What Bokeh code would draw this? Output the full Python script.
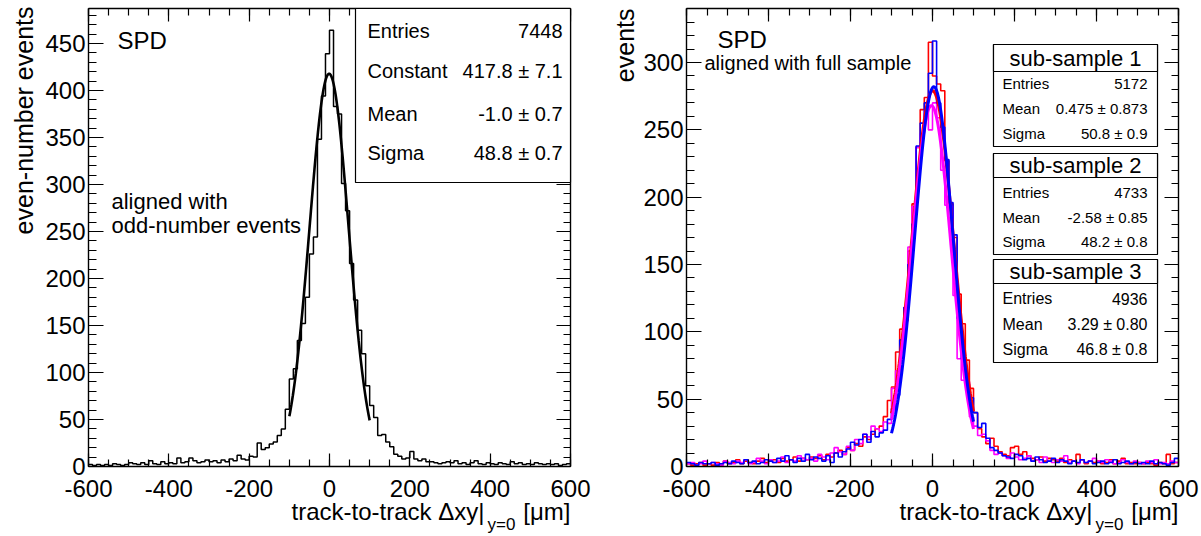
import numpy as np
from bokeh.plotting import figure
from bokeh.layouts import row
from bokeh.models import LinearAxis, FixedTicker, Label, BoxAnnotation, Range1d
from bokeh.embed import file_html
from bokeh.resources import INLINE

FONT = "Liberation Sans"

# 120 bins of 10 um between -600 and 600
bin_edges = np.arange(-600, 601, 10)

# even-number events, aligned with odd-number events
even_counts = [
    2, 1, 2, 1, 2, 1, 3, 2, 1, 2,
    4, 3, 2, 4, 2, 6, 3, 2, 5, 3,
    4, 3, 9, 4, 5, 9, 6, 4, 5, 7,
    5, 6, 4, 7, 5, 8, 6, 12, 8, 7,
    11, 10, 25, 18, 20, 24, 26, 33, 40, 61,
    93, 104, 134, 152, 180, 226, 244, 348, 394, 439,
    464, 383, 375, 301, 272, 216, 177, 145, 120, 86,
    65, 52, 33, 34, 26, 21, 13, 11, 8, 9,
    16, 8, 6, 8, 5, 5, 4, 3, 4, 5,
    4, 6, 3, 4, 2, 4, 6, 3, 2, 4,
    3, 2, 4, 3, 2, 5, 3, 4, 2, 3,
    2, 4, 3, 2, 3, 2, 3, 1, 2, 3,
]

# sub-samples aligned with the full sample
sub1_counts = [
    2, 1, 2, 3, 1, 2, 1, 3, 2, 4,
    2, 3, 5, 2, 4, 3, 2, 4, 6, 3,
    4, 5, 3, 6, 4, 5, 7, 4, 6, 5,
    7, 6, 8, 5, 9, 7, 10, 12, 9, 14,
    12, 17, 15, 22, 20, 24, 28, 30, 37, 49,
    59, 85, 102, 108, 160, 195, 237, 265, 274, 315,
    290, 284, 279, 227, 195, 170, 128, 106, 79, 58,
    40, 28, 22, 17, 21, 15, 11, 9, 8, 14,
    15, 9, 11, 8, 6, 5, 7, 4, 6, 5,
    4, 6, 3, 5, 4, 9, 5, 2, 4, 3,
    4, 2, 3, 5, 2, 4, 6, 2, 3, 2,
    3, 2, 3, 2, 1, 3, 2, 9, 2, 3,
]
sub2_counts = [
    2, 3, 1, 2, 4, 2, 3, 2, 1, 4,
    3, 2, 4, 3, 5, 2, 3, 6, 4, 2,
    5, 3, 4, 7, 3, 5, 4, 8, 6, 5,
    6, 4, 9, 7, 5, 10, 14, 11, 9, 15,
    12, 20, 17, 24, 22, 30, 28, 26, 33, 32,
    58, 71, 86, 118, 163, 193, 237, 247, 264, 250,
    270, 259, 220, 194, 193, 127, 80, 64, 63, 37,
    30, 23, 24, 19, 12, 9, 10, 8, 6, 10,
    7, 5, 6, 8, 4, 5, 3, 7, 4, 3,
    5, 4, 8, 3, 4, 2, 5, 3, 4, 6,
    4, 3, 5, 4, 2, 3, 5, 3, 2, 4,
    3, 2, 4, 3, 5, 2, 3, 2, 4, 3,
]
sub3_counts = [
    3, 2, 1, 3, 2, 2, 3, 1, 2, 3,
    2, 4, 3, 2, 5, 3, 4, 2, 3, 5,
    4, 3, 6, 4, 8, 5, 3, 6, 4, 9,
    5, 7, 6, 4, 8, 3, 10, 7, 11, 13,
    18, 16, 20, 24, 18, 26, 22, 25, 27, 35,
    43, 53, 94, 118, 150, 180, 238, 255, 270, 292,
    316, 270, 252, 228, 196, 172, 110, 80, 61, 51,
    40, 29, 32, 21, 14, 12, 10, 8, 7, 6,
    9, 8, 5, 6, 4, 7, 5, 3, 4, 6,
    3, 5, 4, 2, 4, 3, 5, 3, 4, 2,
    3, 4, 2, 3, 5, 2, 3, 4, 2, 3,
    2, 3, 2, 4, 2, 3, 2, 1, 3, 6,
]

# gaussian fits (constant, mean, sigma) over |dxy| < 100
even_fit = (417.8, -1.0, 48.8)
sub_fits = [(279.0, 0.475, 50.8), (268.0, -2.58, 48.2), (282.0, 3.29, 46.8)]
fit_lo, fit_hi = -100, 100

even_stats = [("Entries", "7448"), ("Constant", "417.8 \u00b1 7.1"),
              ("Mean", "-1.0 \u00b1 0.7"), ("Sigma", "48.8 \u00b1 0.7")]
sub_names = ["sub-sample 1", "sub-sample 2", "sub-sample 3"]
sub_entries = ["5172", "4733", "4936"]
sub_means = ["0.475 \u00b1 0.873", "-2.58 \u00b1 0.85", "3.29 \u00b1 0.80"]
sub_sigmas = ["50.8 \u00b1 0.9", "48.2 \u00b1 0.8", "46.8 \u00b1 0.8"]
sub_colors = ["#ff0000", "#ff00ff", "#0000ff"]

x_major = list(range(-600, 601, 200))
x_minor = list(range(-600, 601, 50))
x_labels = {-600: "-600", -400: "-400", -200: "-200"}

# page geometry in pixels (the bokeh page has no body margin)
PAGE_TOP, PAGE_BOTTOM = 0, 536
FRAME_TOP, FRAME_BOTTOM = 8, 466


def style_axis(ax, ticks, minors, t_in, m_in, labels=True, standoff=8):
    ax.ticker = FixedTicker(ticks=ticks, minor_ticks=minors)
    ax.axis_line_color = "black"
    ax.axis_line_width = 1.4
    ax.major_tick_line_color = "black"
    ax.minor_tick_line_color = "black"
    ax.major_tick_line_width = 1.2
    ax.minor_tick_line_width = 1.2
    ax.major_tick_in = t_in
    ax.major_tick_out = 0
    ax.minor_tick_in = m_in
    ax.minor_tick_out = 0
    if labels:
        ax.major_label_text_font = FONT
        ax.major_label_text_font_size = "24px"
        ax.major_label_text_color = "black"
        ax.major_label_standoff = standoff
    else:
        ax.major_label_text_color = None


class Panel:
    """one ROOT-like pad; the bokeh frame covers the whole canvas and the
    axes are pinned at the histogram borders so margin texts are not clipped"""

    def __init__(self, page_left, fig_w, frame_left, frame_w, ymax, y_major, y_minor):
        self.frame_left, self.frame_w, self.ymax = frame_left, frame_w, ymax
        p = figure(frame_width=fig_w, frame_height=PAGE_BOTTOM - PAGE_TOP,
                   x_range=Range1d(self.px(page_left), self.px(page_left + fig_w)),
                   y_range=Range1d(self.py(PAGE_BOTTOM), self.py(PAGE_TOP)),
                   min_border=0, output_backend="svg", toolbar_location=None)
        p.grid.visible = False
        p.outline_line_color = None
        p.background_fill_color = "white"
        p.border_fill_color = "white"

        xb = p.xaxis[0]
        xb.fixed_location = 0
        xb.bounds = (-600, 600)
        style_axis(xb, x_major, x_minor, 13, 7, standoff=13)
        xb.major_label_overrides = x_labels
        yl = p.yaxis[0]
        yl.fixed_location = -600
        yl.bounds = (0, ymax)
        style_axis(yl, y_major, y_minor, 15, 8, standoff=3)

        top = LinearAxis(fixed_location=ymax, bounds=(-600, 600))
        style_axis(top, x_major, x_minor, 13, 7, labels=False)
        p.add_layout(top, "above")
        right = LinearAxis(fixed_location=600, bounds=(0, ymax))
        style_axis(right, y_major, y_minor, 14, 7, labels=False)
        p.add_layout(right, "right")
        self.p = p

    def px(self, px):
        return -600 + (px - self.frame_left) * 1200.0 / self.frame_w

    def py(self, py):
        return (FRAME_BOTTOM - py) * self.ymax / (FRAME_BOTTOM - FRAME_TOP)

    def text(self, px, py, s, size, align="left", angle=0.0):
        # (px, py) is the vertical middle of the text line
        self.p.add_layout(Label(x=self.px(px), y=self.py(py), text=s, text_font=FONT,
                                text_font_size=size, text_color="black",
                                text_align=align, text_baseline="middle", angle=angle))

    def box(self, left, right, top, bottom):
        self.p.add_layout(BoxAnnotation(left=self.px(left), right=self.px(right),
                                        top=self.py(top), bottom=self.py(bottom),
                                        fill_color="white", fill_alpha=1.0,
                                        line_color="black", line_width=1.2, line_alpha=1.0))

    def hist(self, counts, color, width):
        ys = list(counts) + [counts[-1]]
        self.p.step(bin_edges, ys, mode="after", line_color=color, line_width=width)

    def x_title(self, right_px):
        self.text(right_px - 86, 511, "track-to-track \u0394xy|", "24px", align="right")
        self.text(right_px - 83, 524, "y=0", "17px")
        self.text(right_px, 511, "[\u03bcm]", "24px", align="right")


def gauss(params):
    c, m, s = params
    xs = np.linspace(fit_lo, fit_hi, 161)
    return xs, c * np.exp(-0.5 * ((xs - m) / s) ** 2)


# ---- left pad: even-number events ----
left = Panel(0, 600, 88, 482, 487.2, list(range(0, 451, 50)), list(range(0, 481, 10)))
left.hist(even_counts, "black", 1.5)
fx, fy = gauss(even_fit)
left.p.line(fx, fy, line_color="black", line_width=2.6)

left.box(355, 570, FRAME_TOP, 182)
for (name, val), yc in zip(even_stats, [30, 70, 113, 152]):
    left.text(367, yc, name, "20px")
    left.text(562, yc, val, "20px", align="right")

left.text(117, 40, "SPD", "24px")
left.text(111, 201, "aligned with", "22px")
left.text(111, 225, "odd-number events", "22px")
left.text(23, 6, "even-number events", "25px", align="right", angle=np.pi / 2)
left.x_title(570)

# ---- right pad: three sub-samples ----
right = Panel(600, 601, 686, 492, 340.1, list(range(0, 301, 50)), list(range(0, 331, 10)))
for counts, color in zip([sub1_counts, sub2_counts, sub3_counts], sub_colors):
    right.hist(counts, color, 1.6)
for params, color in zip(sub_fits, sub_colors):
    fx, fy = gauss(params)
    right.p.line(fx, fy, line_color=color, line_width=3)

box_rows = [(44, 71, 146, [83, 108, 133], "15px"),
            (153, 177, 254, [192, 217, 241], "15px"),
            (259, 283, 362, [298, 324, 349], "16px")]
for i, (top_y, div_y, bot_y, rows_y, fs) in enumerate(box_rows):
    right.box(993, 1157, top_y, bot_y)
    right.box(993, 1157, top_y, div_y)
    right.text(1075, (top_y + div_y) / 2.0, sub_names[i], "22px", align="center")
    rows = [("Entries", sub_entries[i]), ("Mean", sub_means[i]), ("Sigma", sub_sigmas[i])]
    for (name, val), yc in zip(rows, rows_y):
        right.text(1002, yc, name, fs)
        right.text(1147, yc, val, fs, align="right")

right.text(717, 39, "SPD", "24px")
right.text(704, 62, "aligned with full sample", "20px")
right.text(624, 8, "events", "25px", align="right", angle=np.pi / 2)
right.x_title(1178)

layout = row(left.p, right.p)
open("out.html", "w").write(file_html(layout, INLINE, "SPD track-to-track residuals"))
